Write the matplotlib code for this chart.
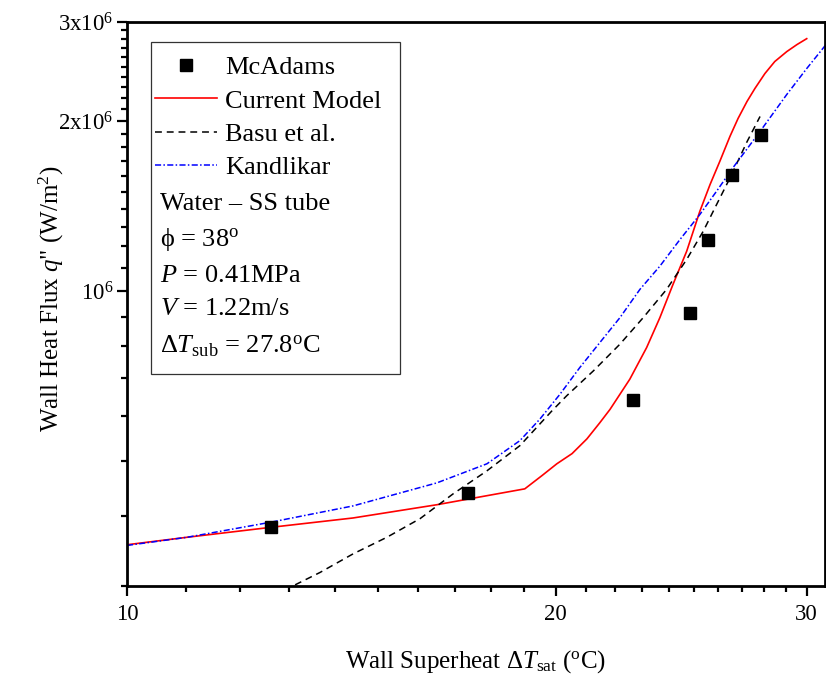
import matplotlib.pyplot as plt
from matplotlib.patches import Rectangle
from matplotlib.ticker import FixedLocator, NullFormatter

plt.rcParams['font.family'] = ['Liberation Serif', 'DejaVu Serif']
plt.rcParams['mathtext.fontset'] = 'custom'
plt.rcParams['mathtext.rm'] = 'Liberation Serif'
plt.rcParams['mathtext.it'] = 'Liberation Serif:italic'
plt.rcParams['mathtext.bf'] = 'Liberation Serif:bold'

# McAdams experimental data
mc_dt = [12.61, 17.36, 22.66, 24.84, 25.58, 26.57, 27.86]
mc_q = [3.81e5, 4.39e5, 6.40e5, 9.13e5, 1.234e6, 1.605e6, 1.894e6]

# current model
model_dt = [10.0, 11.02, 12.6, 14.41, 16.5, 19.02, 19.56, 20.03, 20.53, 21.03, 21.47,
            21.83, 22.54, 23.16, 23.66, 24.17, 24.71, 25.24, 25.66, 26.07,
            26.5, 26.85, 27.24, 27.59, 28.04, 28.49, 29.05, 29.53, 30.0]
model_q = [3.55e5, 3.66e5, 3.81e5, 3.96e5, 4.18e5, 4.46e5, 4.71e5, 4.94e5, 5.15e5, 5.47e5, 5.84e5,
           6.17e5, 6.98e5, 7.94e5, 8.97e5, 1.028e6, 1.177e6, 1.385e6, 1.545e6, 1.699e6,
           1.881e6, 2.024e6, 2.169e6, 2.287e6, 2.431e6, 2.553e6, 2.659e6, 2.736e6, 2.803e6]

# Basu et al.
basu_dt = [12.9, 13.66, 14.41, 15.22, 16.06, 16.94, 17.89, 18.87, 19.87, 20.35, 21.25,
           22.18, 23.03, 23.92, 24.71, 25.38, 25.93, 26.5, 27.24, 27.82]
basu_q = [2.95e5, 3.17e5, 3.42e5, 3.66e5, 3.95e5, 4.37e5, 4.80e5, 5.32e5, 6.13e5, 6.52e5, 7.22e5,
          8.05e5, 8.97e5, 1.007e6, 1.138e6, 1.277e6, 1.423e6, 1.587e6, 1.84e6, 2.04e6]

# Kandlikar
kand_dt = [10.0, 11.02, 12.6, 14.41, 16.5, 17.89, 18.87, 19.49, 20.13, 20.79, 21.47,
           22.18, 22.91, 23.66, 24.44, 25.24, 25.93, 26.62, 27.82, 29.05, 30.0, 31.0]
kand_q = [3.54e5, 3.66e5, 3.89e5, 4.16e5, 4.57e5, 4.94e5, 5.43e5, 5.93e5, 6.56e5, 7.32e5, 8.10e5,
          8.97e5, 1.007e6, 1.107e6, 1.234e6, 1.367e6, 1.503e6, 1.653e6, 1.919e6, 2.232e6, 2.481e6, 2.75e6]

x_major = [10, 20, 30]
x_labels = ['10', '20', '30']
y_major = [1e6, 2e6, 3e6]
y_labels = ['10$^6$', '2x10$^6$', '3x10$^6$']

fig = plt.figure(figsize=(8.26, 6.88), dpi=100)
ax = fig.add_axes([0.1538, 0.1483, 0.845, 0.8197])

ax.plot(mc_dt, mc_q, 's', color='black', ms=9, label='McAdams', zorder=5)
ax.plot(model_dt, model_q, '-', color='red', lw=1.2, label='Current Model')
ax.plot(basu_dt, basu_q, '--', color='black', lw=1.1, dashes=(4.5, 3.2), label='Basu et al.')
ax.plot(kand_dt, kand_q, '-.', color='blue', lw=1.1, dashes=(4, 1.5, 1, 1.5), label='Kandlikar')

ax.set_xscale('log')
ax.set_yscale('log')
ax.set_xlim(10, 30.9)
ax.set_ylim(3e5, 3e6)

ax.set_xticks(x_major)
ax.set_xticklabels(x_labels)
ax.xaxis.set_minor_locator(FixedLocator([v for v in range(11, 31) if v != 20]))
ax.xaxis.set_minor_formatter(NullFormatter())
ax.set_yticks(y_major)
ax.set_yticklabels(y_labels)
ax.yaxis.set_minor_locator(FixedLocator([k * 1e5 for k in range(3, 31) if k not in (10, 20, 30)]))
ax.yaxis.set_minor_formatter(NullFormatter())

ax.tick_params(which='both', direction='out', top=False, right=False, labelsize=16.5, width=1.6)
ax.tick_params(which='major', length=7)
ax.tick_params(axis='x', which='major', pad=6)
ax.tick_params(axis='y', which='major', pad=3)
ax.tick_params(which='minor', length=4.5)
for s in ax.spines.values():
    s.set_linewidth(2)

ax.set_xlabel('Wall Superheat $\\Delta T_{\\rm sat}$ ($^{\\rm o}$C)', fontsize=18, labelpad=17)
ax.set_ylabel('Wall Heat Flux $q$" (W/m$^2$)', fontsize=18)
ax.yaxis.set_label_coords(-0.087, 0.51)

# legend box with the test conditions
leg = ax.legend(loc='upper left', bbox_to_anchor=(0.040, 0.94), frameon=False, fontsize=19,
                handlelength=2.35, handletextpad=0.3, labelspacing=0.37, borderpad=0, borderaxespad=0)
ax.add_patch(Rectangle((0.0344, 0.376), 0.356, 0.5885, transform=ax.transAxes, fill=False,
                       lw=0.9, edgecolor='#333333', zorder=6))
conds = ['Water \u2013 SS tube', '\u03d5 = 38$^{\\rm o}$', '$P$ = 0.41MPa', '$V$ = 1.22m/s',
         '$\\Delta T_{\\rm sub}$ = 27.8$^{\\rm o}$C']
ypos = [0.678, 0.615, 0.550, 0.492, 0.425]
for t, yy in zip(conds, ypos):
    ax.text(0.047, yy, t, transform=ax.transAxes, fontsize=19, va='center', ha='left')

fig.savefig('out.png', dpi=100)
